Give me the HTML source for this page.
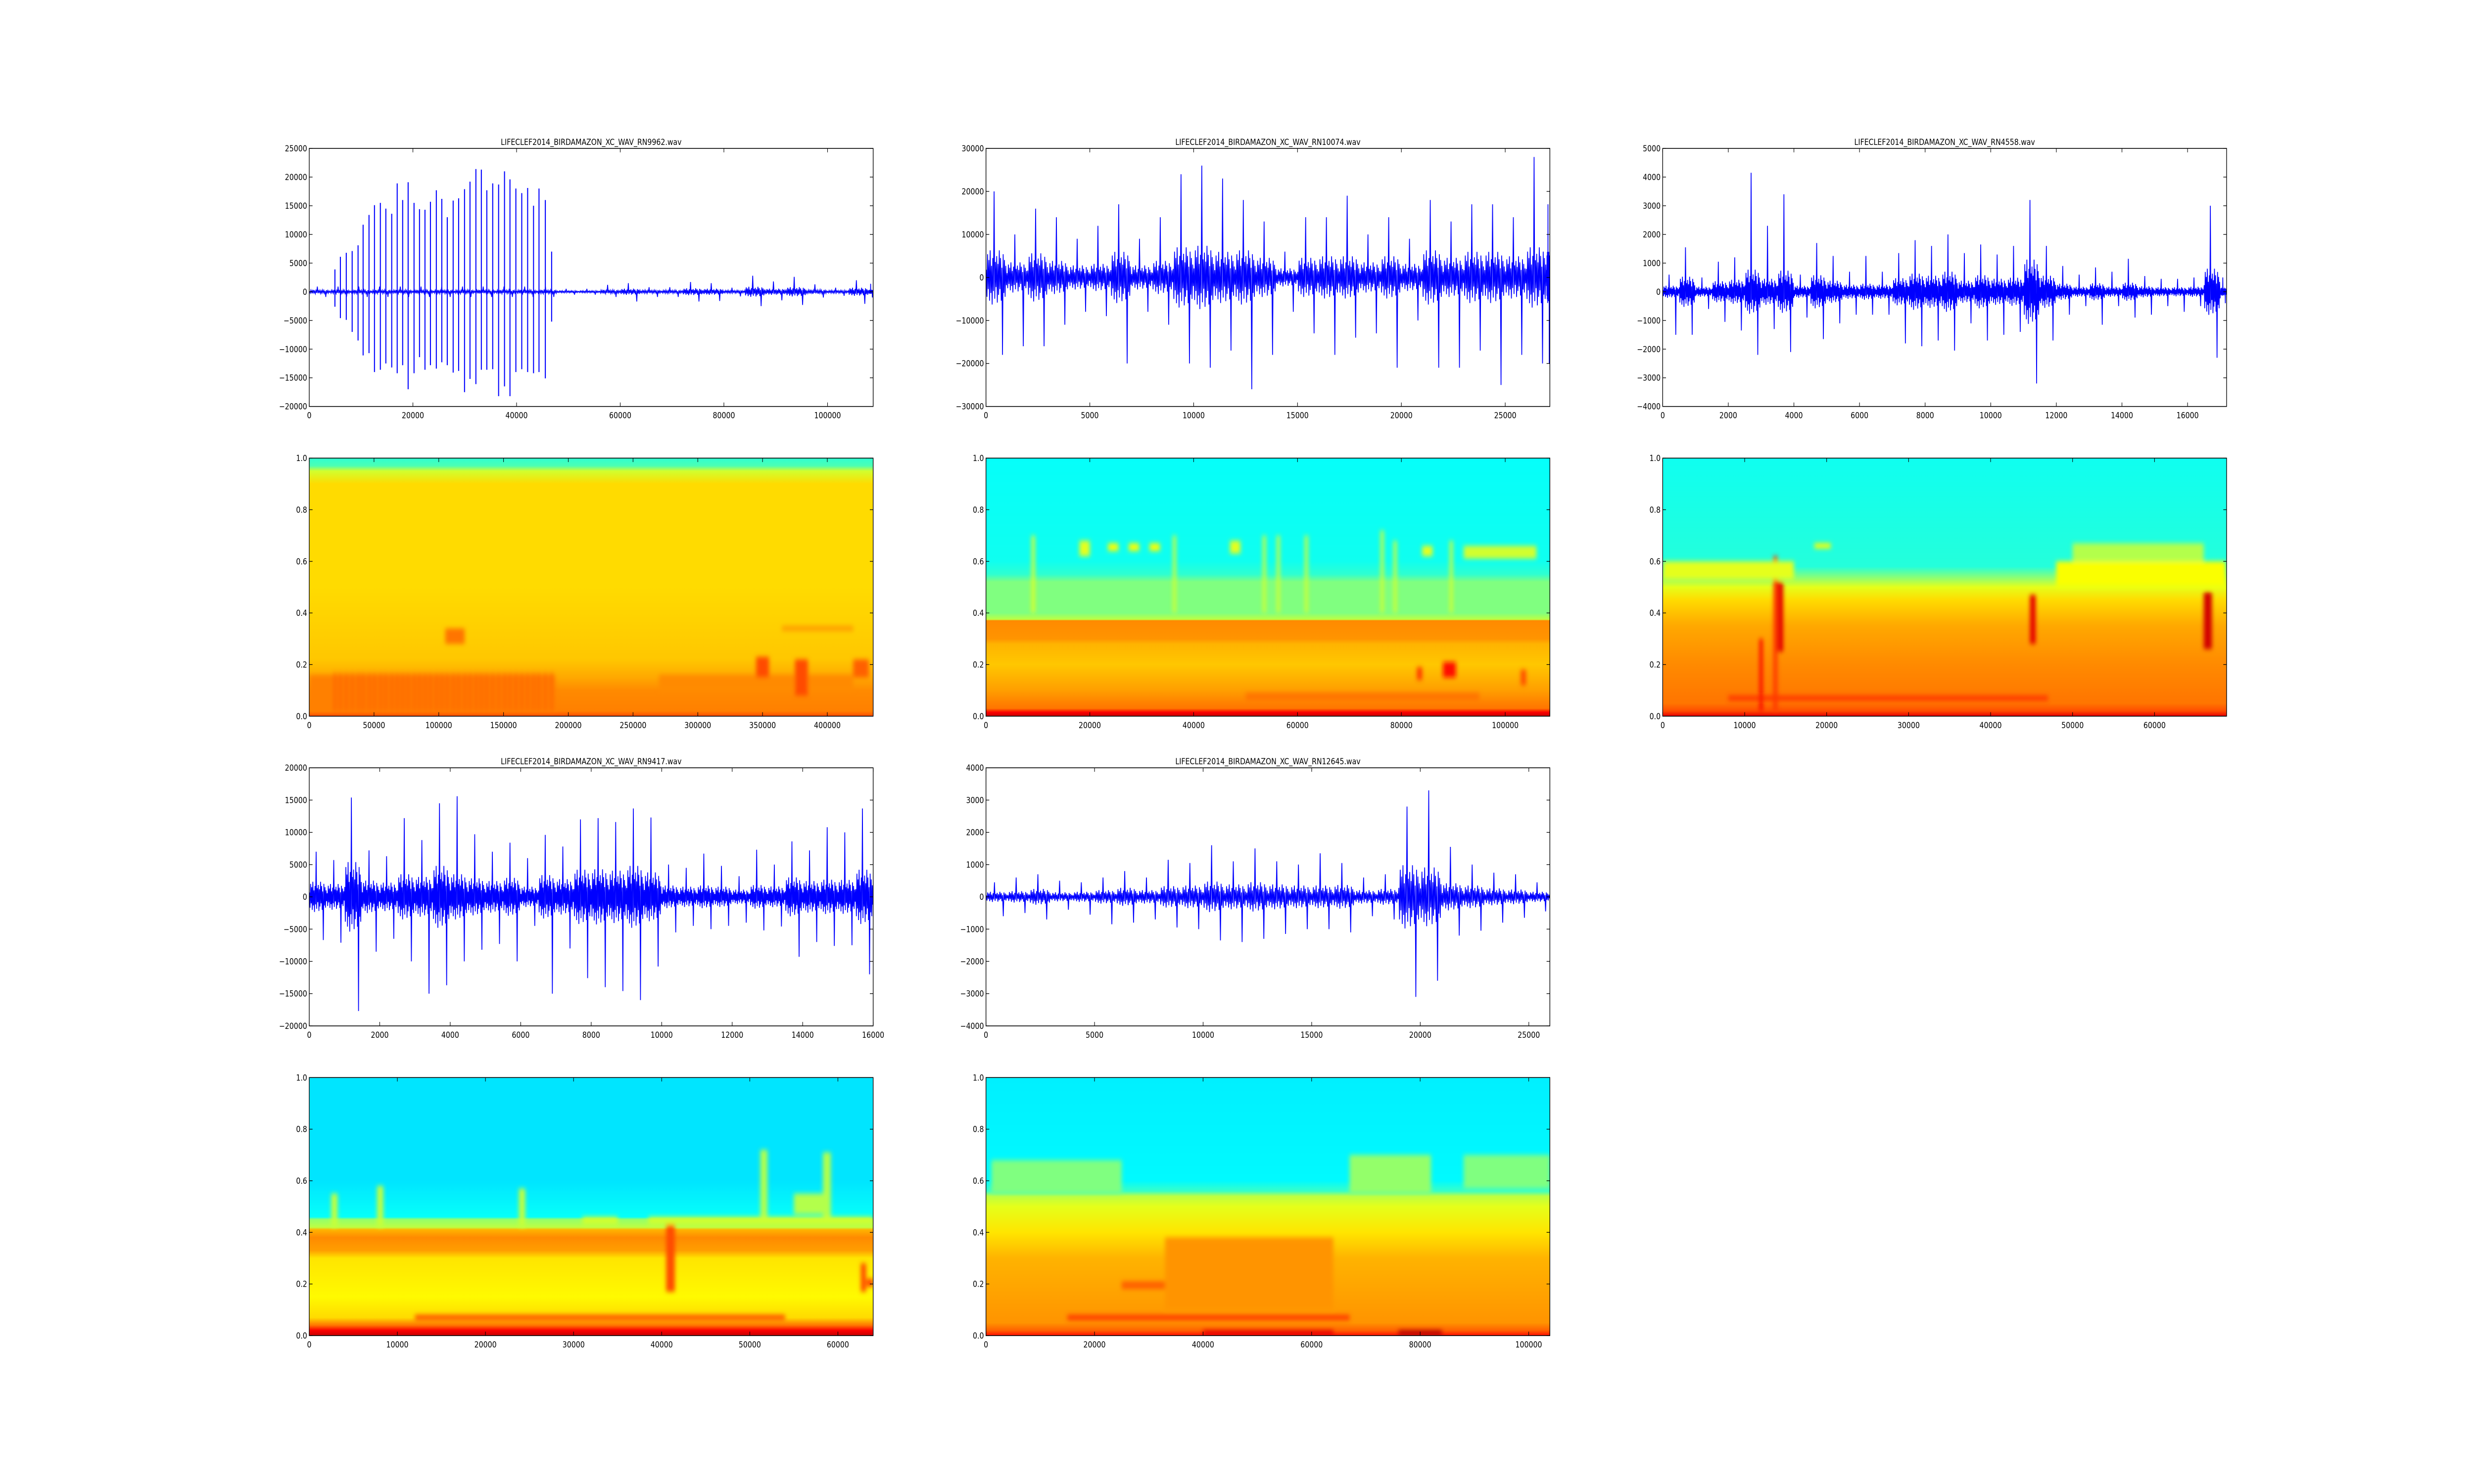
<!DOCTYPE html>
<html><head><meta charset="utf-8"><title>Bird audio waveforms and spectrograms</title>
<style>
html,body{margin:0;padding:0;background:#fff;overflow:hidden;width:100%;height:100%;}
svg{display:block;width:100vw;height:100vh;}
text{font-family:"DejaVu Sans","Liberation Sans",sans-serif;fill:#000;}
</style></head>
<body>
<svg id="fig" viewBox="0 0 6000 3000" preserveAspectRatio="none" xmlns="http://www.w3.org/2000/svg">
<defs>
<filter id="blur" x="-50%" y="-50%" width="200%" height="200%"><feGaussianBlur stdDeviation="5"/></filter>
</defs>
<rect x="0" y="0" width="6000" height="3000" fill="#fff"/>
</svg>
<script>
// ---------------- DATA ----------------
const W1_SEG = 4000;
const W1_HI = [900,900,900,900,900,900,900,900,900,900,900,900,500,500,1200,1500,800,800,1700,1500,700,2800,1800,2600,1300,700,2000,1400];
const W1_LO = [-900,-900,-900,-900,-900,-900,-900,-900,-900,-900,-900,-900,-500,-500,-900,-1700,-900,-900,-1700,-1600,-800,-2500,-1500,-2300,-1000,-700,-2100,-1000];
const W1_SPIKE_X = [4953,6008,7145,8281,9418,10392,11529,12584,13721,14777,15913,16969,18024,19080,20217,21272,22327,23383,24520,25575,26630,27767,28822,29959,31014,32151,33206,34262,35398,36535,37672,38727,39864,41000,42137,43274,44329,45547,46765];
const W1_SPIKE_HI = [3900,6100,6800,7100,8100,11700,13400,15100,15500,14500,13600,18900,16000,19100,15500,14400,14300,15700,17700,16200,13000,15900,16300,17900,19200,21400,21300,17700,18900,18700,21000,19600,18000,17200,18100,15000,18000,16000,7000];
const W1_SPIKE_LO = [-2600,-4600,-4900,-7000,-8500,-11100,-10700,-14000,-13600,-12500,-13200,-14200,-12800,-17000,-14200,-11400,-13600,-12800,-13400,-12300,-12800,-14100,-13800,-17500,-15200,-16100,-13600,-13600,-13500,-18200,-16500,-18200,-14000,-13500,-14000,-14200,-14000,-15100,-5200];
const W2_SEG = 1000;
const W2_HI = [20000,10000,16000,14000,9000,12000,17000,9000,14000,24000,26000,23000,18000,13000,6000,14000,14000,19000,10000,14000,9000,18000,13000,17000,17000,14000,28000,17000];
const W2_LO = [-18000,-16000,-16000,-11000,-8000,-9000,-20000,-8000,-11000,-20000,-21000,-17000,-26000,-18000,-8000,-13000,-18000,-14000,-13000,-21000,-10000,-21000,-21000,-17000,-25000,-18000,-20000,-20000];
const W3_SEG = 500;
const W3_HI = [600,1550,500,1050,1200,4150,2300,3400,600,1700,1250,700,1250,700,1350,1800,1600,2000,1350,1650,1300,1600,3200,1600,900,600,850,700,1150,550,450,450,500,3000,500];
const W3_LO = [-1500,-1500,-600,-1050,-1350,-2200,-1300,-2100,-900,-1650,-1100,-800,-800,-800,-1800,-1900,-1700,-2050,-1100,-1700,-1500,-1400,-3200,-1700,-800,-500,-1150,-500,-900,-800,-500,-700,-500,-2300,-400];
const W4_SEG = 500;
const W4_HI = [7000,5700,15400,7200,6300,12200,8800,14500,15600,9700,7000,8400,6000,9600,7800,12000,12200,11600,13700,12300,5000,4500,6700,4800,3200,7300,5000,8600,7200,10800,10000,13700];
const W4_LO = [-6700,-7100,-17700,-8500,-6500,-10000,-15000,-13700,-10000,-8200,-7300,-10000,-4500,-15000,-8000,-12600,-14000,-14600,-16000,-10800,-5500,-4500,-5000,-4500,-4000,-5200,-4600,-9300,-7000,-7600,-7500,-12000];
const W5_SEG = 1000;
const W5_HI = [450,600,700,500,450,600,800,600,1150,1050,1600,1100,1500,1100,1000,1350,1050,600,700,2800,3300,1550,1000,750,700,450];
const W5_LO = [-600,-500,-700,-400,-550,-850,-800,-700,-950,-1000,-1350,-1400,-1300,-1150,-1000,-1000,-1100,-600,-700,-3100,-2600,-1200,-1050,-800,-650,-450];

const S1_FREQ = [0,0.02,0.1,0.15,0.22,0.5,0.9,0.95,0.97,1.0];
const S1_LEVEL = [0.8,0.75,0.74,0.71,0.68,0.66,0.66,0.58,0.45,0.42];
const S2_FREQ = [0,0.015,0.03,0.1,0.2,0.28,0.3,0.37,0.375,0.4,0.52,0.55,0.6,1.0];
const S2_LEVEL = [0.93,0.88,0.76,0.72,0.68,0.7,0.73,0.74,0.56,0.5,0.5,0.42,0.39,0.38];
const S3_FREQ = [0,0.02,0.05,0.2,0.35,0.45,0.5,0.55,0.58,1.0];
const S3_LEVEL = [0.9,0.8,0.76,0.74,0.71,0.66,0.6,0.48,0.41,0.39];
const S4_FREQ = [0,0.02,0.04,0.07,0.15,0.3,0.33,0.38,0.41,0.42,0.45,0.46,0.6,1.0];
const S4_LEVEL = [0.93,0.88,0.76,0.66,0.63,0.65,0.72,0.74,0.7,0.56,0.52,0.38,0.35,0.35];
const S5_FREQ = [0,0.02,0.05,0.3,0.4,0.5,0.54,0.56,0.6,1.0];
const S5_LEVEL = [0.86,0.78,0.73,0.7,0.65,0.6,0.56,0.43,0.37,0.36];
const S1_EVENTS = [[0,190000,0.02,0.16,0.75],[270000,420000,0.1,0.16,0.74],[345000,355000,0.15,0.23,0.8],[375000,385000,0.08,0.22,0.8],[420000,432000,0.15,0.22,0.78],[105000,120000,0.28,0.34,0.76],[365000,420000,0.33,0.35,0.72]];
const S2_EVENTS = [[18000,20000,0.62,0.68,0.6],[23500,25500,0.64,0.67,0.62],[27500,29500,0.64,0.67,0.62],[31500,33500,0.64,0.67,0.62],[47000,49000,0.63,0.68,0.6],[84000,86000,0.62,0.66,0.6],[92000,106000,0.61,0.66,0.58],[8800,9400,0.4,0.7,0.6],[36000,36600,0.4,0.7,0.58],[53300,53900,0.4,0.7,0.58],[56000,56600,0.4,0.7,0.58],[61400,62000,0.4,0.7,0.58],[76000,76600,0.4,0.72,0.58],[78500,79100,0.4,0.68,0.58],[89300,89900,0.4,0.68,0.58],[88000,90500,0.15,0.21,0.86],[50000,95000,0.06,0.09,0.76],[83000,84000,0.14,0.19,0.82],[103000,104000,0.12,0.18,0.8]];
const S3_EVENTS = [[48000,68700,0.5,0.6,0.62],[50000,66000,0.6,0.67,0.55],[14000,14700,0.25,0.52,0.9],[44800,45500,0.28,0.47,0.9],[66000,67000,0.26,0.48,0.92],[8000,47000,0.06,0.08,0.82],[18500,20500,0.65,0.67,0.62],[11800,12200,0.02,0.3,0.88],[13500,14000,0.02,0.62,0.82],[0,16000,0.53,0.6,0.6]];
const S4_EVENTS = [[12000,54000,0.06,0.08,0.8],[2500,3200,0.42,0.55,0.57],[7700,8400,0.42,0.58,0.57],[23800,24500,0.42,0.57,0.57],[51200,52000,0.46,0.72,0.55],[58300,59200,0.46,0.71,0.55],[55000,59000,0.47,0.55,0.55],[38500,64000,0.43,0.46,0.58],[40500,41500,0.17,0.43,0.8],[62600,63200,0.17,0.28,0.8],[63300,64000,0.19,0.22,0.82],[31000,35000,0.43,0.46,0.58]];
const S5_EVENTS = [[15000,67000,0.06,0.08,0.82],[25000,64000,0.18,0.21,0.78],[33000,64000,0.1,0.38,0.73],[67000,82000,0.55,0.7,0.52],[1000,25000,0.55,0.68,0.5],[88000,104000,0.57,0.7,0.5],[76000,84000,0,0.02,0.95],[40000,64000,0,0.02,0.9]];

const W1_XT = [0,20000,40000,60000,80000,100000], W1_YT = [-20000,-15000,-10000,-5000,0,5000,10000,15000,20000,25000];
const W2_XT = [0,5000,10000,15000,20000,25000], W2_YT = [-30000,-20000,-10000,0,10000,20000,30000];
const W3_XT = [0,2000,4000,6000,8000,10000,12000,14000,16000], W3_YT = [-4000,-3000,-2000,-1000,0,1000,2000,3000,4000,5000];
const W4_XT = [0,2000,4000,6000,8000,10000,12000,14000,16000], W4_YT = [-20000,-15000,-10000,-5000,0,5000,10000,15000,20000];
const W5_XT = [0,5000,10000,15000,20000,25000], W5_YT = [-4000,-3000,-2000,-1000,0,1000,2000,3000,4000];
const S1_XT = [0,50000,100000,150000,200000,250000,300000,350000,400000];
const S2_XT = [0,20000,40000,60000,80000,100000];
const S3_XT = [0,10000,20000,30000,40000,50000,60000];
const S4_XT = [0,10000,20000,30000,40000,50000,60000];
const S5_XT = [0,20000,40000,60000,80000,100000];
const S_YT = [0,0.2,0.4,0.6,0.8,1.0];

// ---------------- RENDER ----------------
const NS = 'http://www.w3.org/2000/svg';
const svg = document.getElementById('fig');
function el(tag, attrs, parent){const e=document.createElementNS(NS,tag);for(const k in attrs)e.setAttribute(k,attrs[k]);(parent||svg).appendChild(e);return e;}
function jet(v){const c=x=>Math.round(255*Math.max(0,Math.min(1,x)));return 'rgb('+c(1.5-Math.abs(4*v-3))+','+c(1.5-Math.abs(4*v-2))+','+c(1.5-Math.abs(4*v-1))+')';}
const AX_W = 1367.6, AX_H = 521.7;
const COLS = [750, 2391.2, 4032.4];
const ROWS = [300, 926.1, 1552.2, 2178.3];
let clipId = 0;
function fmtInt(v){return (v<0?'\u2212':'')+Math.abs(v);}
function fmtDec(v){return v.toFixed(1);}

function makeAxes(name, col, row, xmax, ymin, ymax, xt, yt, fmtY, title){
  const L = COLS[col], T = ROWS[row], R = L+AX_W, B = T+AX_H;
  const g = el('g', {});
  
  
  const sx = v => L + v/xmax*AX_W;
  const sy = v => B - (v-ymin)/(ymax-ymin)*AX_H;
  const cid = 'clip'+(clipId++);
  const cp = el('clipPath', {id:cid}, g);
  el('rect', {x:L, y:T, width:AX_W, height:AX_H}, cp);
  const plot = el('g', {'clip-path':'url(#'+cid+')'}, g);
  
  
  const finish = () => {
    const fr = el('rect', {x:L, y:T, width:AX_W, height:AX_H, fill:'none', stroke:'#000', 'stroke-width':1.6}, g);
    
    
    xt.forEach(v => {
      const x = sx(v);
      el('line', {x1:x, y1:B, x2:x, y2:B-8, stroke:'#000', 'stroke-width':1.3}, g);
      el('line', {x1:x, y1:T, x2:x, y2:T+8, stroke:'#000', 'stroke-width':1.3}, g);
      const t = el('text', {x:x, y:B+24, 'font-size':17, 'text-anchor':'middle'}, g);
      t.textContent = fmtInt(v);
      
      
    });
    yt.forEach(v => {
      const y = sy(v);
      el('line', {x1:L, y1:y, x2:L+8, y2:y, stroke:'#000', 'stroke-width':1.3}, g);
      el('line', {x1:R, y1:y, x2:R-8, y2:y, stroke:'#000', 'stroke-width':1.3}, g);
      const t = el('text', {x:L-5, y:y+6, 'font-size':17, 'text-anchor':'end'}, g);
      t.textContent = fmtY(v);
      
      
    });
    if (title){
      const t = el('text', {x:L+AX_W/2, y:T-7, 'font-size':17, 'text-anchor':'middle'}, g);
      t.textContent = title;
      
      
    }
  };
  return {g, plot, sx, sy, finish, L, T, R, B};
}

const PAT = [0.2,-0.5,0.6,-0.3,0.45,-0.6,0.7,-0.4,0.3,-0.7,0.5,-0.35,1,-0.55,0.4,-0.25,0.55,-0.65,0.35,-0.45,0.7,-0.3,0.5,-0.6,0.25,-1,0.6,-0.4,0.45,-0.5,0.3,-0.2];
function drawNoiseWave(ax, seg, hi, lo, xmax, name){
  const pts = [];
  for (let i=0;i<hi.length;i++){
    const t0 = i*seg, t1 = Math.min((i+1)*seg, xmax);
    if (t0 >= xmax) break;
    const core = 0.5*Math.min(hi[i], -lo[i]);
    for (let k=0;k<PAT.length;k++){
      const t = t0 + (t1-t0)*(k+0.5)/PAT.length;
      const p = PAT[k];
      const v = p===1 ? hi[i] : (p===-1 ? lo[i] : p*core);
      pts.push(ax.sx(t).toFixed(1)+','+ax.sy(v).toFixed(1));
    }
  }
  const pl = el('polyline', {points:pts.join(' '), fill:'none', stroke:'#0000ff', 'stroke-width':2}, ax.plot);
  
  
}

function drawSpectro(ax, freq, level, events, name){
  const gid = name+'-grad';
  const lg = el('linearGradient', {id:gid, x1:0, y1:1, x2:0, y2:0}, ax.g);
  freq.forEach((f,i) => el('stop', {offset:f, 'stop-color':jet(level[i])}, lg));
  const bg = el('rect', {x:ax.L, y:ax.T, width:AX_W, height:AX_H, fill:'url(#'+gid+')'}, ax.plot);
  
  
  const eg = el('g', {filter:'url(#blur)'}, ax.plot);
  events.forEach(e => {
    const x0 = ax.sx(e[0]), x1 = ax.sx(e[1]), y0 = ax.sy(e[3]), y1 = ax.sy(e[2]);
    const r = el('rect', {x:x0, y:y0, width:Math.max(3,x1-x0), height:Math.max(3,y1-y0), fill:jet(e[4])}, eg);
    
    
  });
}

(function(){
  const ax = makeAxes('waveform-rn9962', 0, 0, 108800, -20000, 25000, W1_XT, W1_YT, fmtInt, 'LIFECLEF2014_BIRDAMAZON_XC_WAV_RN9962.wav');
  drawNoiseWave(ax, W1_SEG, W1_HI, W1_LO, 108800, 'waveform-rn9962');
  W1_SPIKE_X.forEach((x,i) => {
    const l = el('line', {x1:ax.sx(x), x2:ax.sx(x), y1:ax.sy(W1_SPIKE_HI[i]), y2:ax.sy(W1_SPIKE_LO[i]), stroke:'#0000ff', 'stroke-width':2.5}, ax.plot);
    
    
  });
  ax.finish();
})();
(function(){
  const ax = makeAxes('spectrogram-rn9962', 0, 1, 435400, 0, 1, S1_XT, S_YT, fmtDec, null);
  const stripes = W1_SPIKE_X.map(x => [x*4-400, x*4+400, 0.02, 0.17, 0.83]);
  drawSpectro(ax, S1_FREQ, S1_LEVEL, S1_EVENTS.concat(stripes), 'spectrogram-rn9962');
  ax.finish();
})();
(function(){
  const ax = makeAxes('waveform-rn10074', 1, 0, 27150, -30000, 30000, W2_XT, W2_YT, fmtInt, 'LIFECLEF2014_BIRDAMAZON_XC_WAV_RN10074.wav');
  drawNoiseWave(ax, W2_SEG, W2_HI, W2_LO, 27150, 'waveform-rn10074');
  ax.finish();
})();
(function(){
  const ax = makeAxes('spectrogram-rn10074', 1, 1, 108600, 0, 1, S2_XT, S_YT, fmtDec, null);
  drawSpectro(ax, S2_FREQ, S2_LEVEL, S2_EVENTS, 'spectrogram-rn10074');
  ax.finish();
})();
(function(){
  const ax = makeAxes('waveform-rn4558', 2, 0, 17190, -4000, 5000, W3_XT, W3_YT, fmtInt, 'LIFECLEF2014_BIRDAMAZON_XC_WAV_RN4558.wav');
  drawNoiseWave(ax, W3_SEG, W3_HI, W3_LO, 17190, 'waveform-rn4558');
  ax.finish();
})();
(function(){
  const ax = makeAxes('spectrogram-rn4558', 2, 1, 68790, 0, 1, S3_XT, S_YT, fmtDec, null);
  drawSpectro(ax, S3_FREQ, S3_LEVEL, S3_EVENTS, 'spectrogram-rn4558');
  ax.finish();
})();
(function(){
  const ax = makeAxes('waveform-rn9417', 0, 2, 16000, -20000, 20000, W4_XT, W4_YT, fmtInt, 'LIFECLEF2014_BIRDAMAZON_XC_WAV_RN9417.wav');
  drawNoiseWave(ax, W4_SEG, W4_HI, W4_LO, 16000, 'waveform-rn9417');
  ax.finish();
})();
(function(){
  const ax = makeAxes('spectrogram-rn9417', 0, 3, 64000, 0, 1, S4_XT, S_YT, fmtDec, null);
  drawSpectro(ax, S4_FREQ, S4_LEVEL, S4_EVENTS, 'spectrogram-rn9417');
  ax.finish();
})();
(function(){
  const ax = makeAxes('waveform-rn12645', 1, 2, 25970, -4000, 4000, W5_XT, W5_YT, fmtInt, 'LIFECLEF2014_BIRDAMAZON_XC_WAV_RN12645.wav');
  drawNoiseWave(ax, W5_SEG, W5_HI, W5_LO, 25970, 'waveform-rn12645');
  ax.finish();
})();
(function(){
  const ax = makeAxes('spectrogram-rn12645', 1, 3, 103900, 0, 1, S5_XT, S_YT, fmtDec, null);
  drawSpectro(ax, S5_FREQ, S5_LEVEL, S5_EVENTS, 'spectrogram-rn12645');
  ax.finish();
})();
</script>
</body></html>
